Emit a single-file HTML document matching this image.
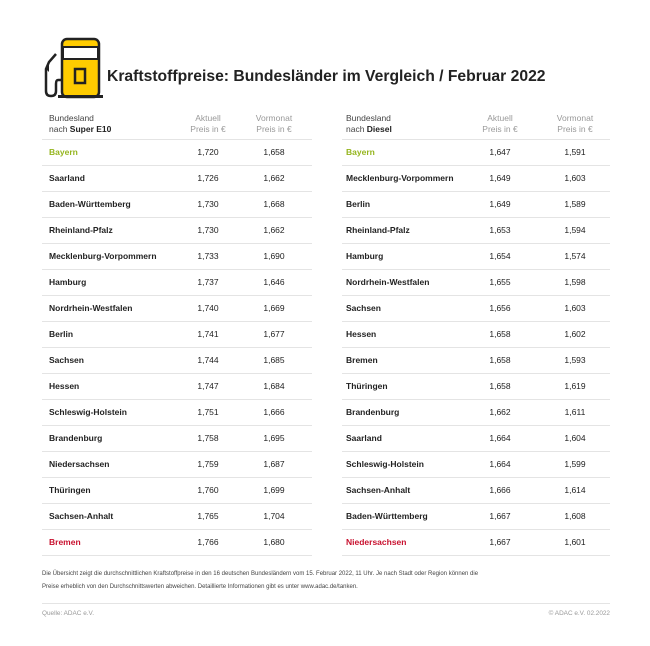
<!DOCTYPE html>
<html><head><meta charset="utf-8"><style>
body{margin:0;background:#fff;width:650px;height:646px;position:relative;font-family:"Liberation Sans",sans-serif;color:#222;overflow:hidden}
.a{position:absolute;white-space:nowrap}
.h{font-size:8.5px;color:#999;line-height:11px}
.n{font-size:8.5px;font-weight:bold}
.v{font-size:8.5px;text-align:center;width:60px}
.l{position:absolute;height:1px;background:#e4e4e4}
.g{color:#95b51e}.r{color:#c8102e}
</style></head><body>
<svg class="a" style="left:40px;top:36px" width="64" height="64" viewBox="0 0 64 64">
<rect x="22" y="3" width="37" height="58" rx="5" fill="#ffcc00" stroke="#222" stroke-width="2.5"/>
<rect x="23" y="11" width="35" height="12" fill="#fff" stroke="#222" stroke-width="2"/>
<rect x="35" y="33" width="10" height="14" fill="none" stroke="#222" stroke-width="2.5"/>
<rect x="18" y="59" width="45" height="3" fill="#222"/>
<path d="M22 44 H18 Q16 44 16 48 V55 Q16 60 11 60 Q6 60 6 55 V33 L9 26 L16 18" fill="none" stroke="#222" stroke-width="2.5"/>
<path d="M6 33 L9 26 L9 36 Z" fill="#222"/>
</svg>
<div class="a" style="left:107px;top:68px;font-size:15.7px;font-weight:bold;color:#222">Kraftstoffpreise: Bundesländer im Vergleich / Februar 2022</div>

<div class="a h" style="left:49px;top:113px;color:#444">Bundesland<br>nach <b style="color:#222">Super E10</b></div>
<div class="a h" style="left:178px;top:113px;width:60px;text-align:center">Aktuell<br>Preis in €</div>
<div class="a h" style="left:244px;top:113px;width:60px;text-align:center">Vormonat<br>Preis in €</div>
<div class="a h" style="left:346px;top:113px;color:#444">Bundesland<br>nach <b style="color:#222">Diesel</b></div>
<div class="a h" style="left:470px;top:113px;width:60px;text-align:center">Aktuell<br>Preis in €</div>
<div class="a h" style="left:545px;top:113px;width:60px;text-align:center">Vormonat<br>Preis in €</div>

<div id="rows"></div>
<script>
var L=[["Bayern","1,720","1,658"],["Saarland","1,726","1,662"],["Baden-Württemberg","1,730","1,668"],["Rheinland-Pfalz","1,730","1,662"],["Mecklenburg-Vorpommern","1,733","1,690"],["Hamburg","1,737","1,646"],["Nordrhein-Westfalen","1,740","1,669"],["Berlin","1,741","1,677"],["Sachsen","1,744","1,685"],["Hessen","1,747","1,684"],["Schleswig-Holstein","1,751","1,666"],["Brandenburg","1,758","1,695"],["Niedersachsen","1,759","1,687"],["Thüringen","1,760","1,699"],["Sachsen-Anhalt","1,765","1,704"],["Bremen","1,766","1,680"]];
var R=[["Bayern","1,647","1,591"],["Mecklenburg-Vorpommern","1,649","1,603"],["Berlin","1,649","1,589"],["Rheinland-Pfalz","1,653","1,594"],["Hamburg","1,654","1,574"],["Nordrhein-Westfalen","1,655","1,598"],["Sachsen","1,656","1,603"],["Hessen","1,658","1,602"],["Bremen","1,658","1,593"],["Thüringen","1,658","1,619"],["Brandenburg","1,662","1,611"],["Saarland","1,664","1,604"],["Schleswig-Holstein","1,664","1,599"],["Sachsen-Anhalt","1,666","1,614"],["Baden-Württemberg","1,667","1,608"],["Niedersachsen","1,667","1,601"]];
var h='';
h+='<div class="l" style="left:42px;top:139px;width:270px"></div><div class="l" style="left:342px;top:139px;width:268px"></div>';
for(var i=0;i<16;i++){var y=147+i*26.0;var c=i==0?' g':(i==15?' r':'');
h+='<div class="a n'+c+'" style="left:49px;top:'+y+'px">'+L[i][0]+'</div><div class="a v" style="left:178px;top:'+y+'px">'+L[i][1]+'</div><div class="a v" style="left:244px;top:'+y+'px">'+L[i][2]+'</div>';
h+='<div class="a n'+c+'" style="left:346px;top:'+y+'px">'+R[i][0]+'</div><div class="a v" style="left:470px;top:'+y+'px">'+R[i][1]+'</div><div class="a v" style="left:545px;top:'+y+'px">'+R[i][2]+'</div>';
var ly=y+18;h+='<div class="l" style="left:42px;top:'+ly+'px;width:270px"></div><div class="l" style="left:342px;top:'+ly+'px;width:268px"></div>';}
document.getElementById('rows').innerHTML=h;
</script>
<div class="a" style="left:42px;top:568px;font-size:6px;line-height:12.5px;color:#444">Die Übersicht zeigt die durchschnittlichen Kraftstoffpreise in den 16 deutschen Bundesländern vom 15. Februar 2022, 11 Uhr. Je nach Stadt oder Region können die<br>Preise erheblich von den Durchschnittswerten abweichen. Detaillierte Informationen gibt es unter www.adac.de/tanken.</div>
<div class="l" style="left:42px;top:603px;width:568px"></div>
<div class="a" style="left:42px;top:610px;font-size:6.4px;color:#999">Quelle: ADAC e.V.</div>
<div class="a" style="right:40px;top:610px;font-size:6.4px;color:#999">© ADAC e.V. 02.2022</div>
</body></html>
